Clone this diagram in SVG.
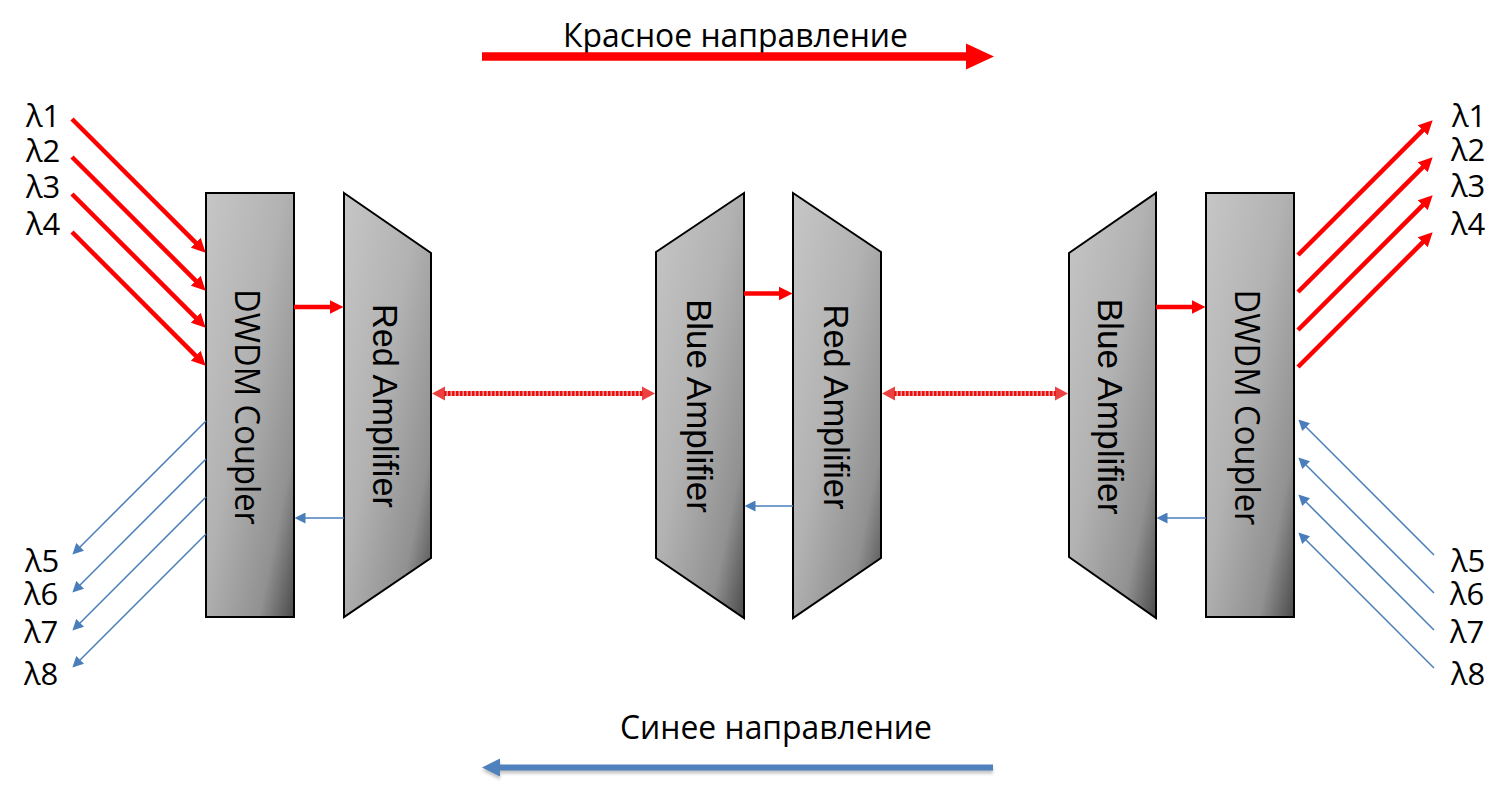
<svg xmlns="http://www.w3.org/2000/svg" width="1512" height="797" viewBox="0 0 1512 797">
<style>
.box{stroke:#000;stroke-width:2;fill:url(#grey)}
.amp{font-family:"Liberation Sans",Arial,sans-serif;font-size:35px;fill:#000}
.cpl{font-family:"Open Sans","Noto Sans",sans-serif;font-size:34px;fill:#000}
.lam{font-family:"Open Sans","Noto Sans",sans-serif;font-size:31px;fill:#000}
.title{font-family:"Open Sans","Noto Sans",sans-serif;font-size:32px;fill:#000}
.red{stroke:#f00;stroke-width:4.5;fill:none;marker-end:url(#rh)}
.blue{stroke:#4a7ebb;stroke-width:1.5;fill:none;marker-end:url(#bh)}
.dotbase{stroke:#f59a9a;stroke-width:5}
.dot{stroke:#e81010;stroke-width:5;stroke-dasharray:2.5 1.5}
.dhead{fill:#e82020;opacity:0.85}
</style>
<defs>
<linearGradient id="grey" x1="0" y1="0" x2="1" y2="1">
<stop offset="0" stop-color="#c6c6c6"/>
<stop offset="0.45" stop-color="#b2b2b2"/>
<stop offset="0.8" stop-color="#919191"/>
<stop offset="1" stop-color="#4a4a4a"/>
</linearGradient>
<marker id="rh" viewBox="0 0 14 14" refX="0.5" refY="7" markerWidth="14" markerHeight="14" markerUnits="userSpaceOnUse" orient="auto">
<path d="M0,0 L14,7 L0,14 z" fill="#f00"/>
</marker>
<marker id="bh" viewBox="0 0 11 11" refX="0.5" refY="5.5" markerWidth="11" markerHeight="11" markerUnits="userSpaceOnUse" orient="auto">
<path d="M0,0 L11,5.5 L0,11 z" fill="#4a7ebb"/>
</marker>
<filter id="sh" x="-5%" y="-100%" width="110%" height="300%">
<feGaussianBlur stdDeviation="1.5"/>
</filter>
</defs>
<rect width="1512" height="797" fill="#fff"/>

<g id="node-dwdm-left">
<rect class="box" x="206" y="193" width="88" height="424"/>
<text class="cpl" x="235" y="407" text-anchor="middle" textLength="236" lengthAdjust="spacingAndGlyphs" transform="rotate(90 235 407)">DWDM Coupler</text>
</g>
<g id="node-redamp-left">
<polygon class="box" points="344,193 431,253 431,558 344,617"/>
<text class="amp" x="373" y="406" text-anchor="middle" textLength="204" lengthAdjust="spacingAndGlyphs" transform="rotate(90 373 406)">Red Amplifier</text>
</g>
<g id="node-blueamp-mid">
<polygon class="box" points="656,252 744,193 744,618 656,558"/>
<text class="amp" x="687" y="406" text-anchor="middle" textLength="214" lengthAdjust="spacingAndGlyphs" transform="rotate(90 687 406)">Blue Amplifier</text>
</g>
<g id="node-redamp-mid">
<polygon class="box" points="793,193 881,252 881,558 793,618"/>
<text class="amp" x="824" y="407" text-anchor="middle" textLength="205" lengthAdjust="spacingAndGlyphs" transform="rotate(90 824 407)">Red Amplifier</text>
</g>
<g id="node-blueamp-right">
<polygon class="box" points="1069,253 1156,193 1156,618 1069,557"/>
<text class="amp" x="1098" y="406.5" text-anchor="middle" textLength="216" lengthAdjust="spacingAndGlyphs" transform="rotate(90 1098 406.5)">Blue Amplifier</text>
</g>
<g id="node-dwdm-right">
<rect class="box" x="1206" y="193" width="88" height="424"/>
<text class="cpl" x="1235" y="407.5" text-anchor="middle" textLength="236" lengthAdjust="spacingAndGlyphs" transform="rotate(90 1235 407.5)">DWDM Coupler</text>
</g>

<g id="labels">
<text class="lam" x="26" y="127">λ1</text>
<text class="lam" x="26" y="162">λ2</text>
<text class="lam" x="26" y="198">λ3</text>
<text class="lam" x="26" y="235">λ4</text>
<text class="lam" x="25" y="572">λ5</text>
<text class="lam" x="24" y="605">λ6</text>
<text class="lam" x="24" y="643">λ7</text>
<text class="lam" x="24" y="685">λ8</text>
<text class="lam" x="1452" y="127">λ1</text>
<text class="lam" x="1451" y="161">λ2</text>
<text class="lam" x="1451" y="197">λ3</text>
<text class="lam" x="1451" y="235">λ4</text>
<text class="lam" x="1451" y="572">λ5</text>
<text class="lam" x="1450" y="605">λ6</text>
<text class="lam" x="1450" y="643">λ7</text>
<text class="lam" x="1451" y="685">λ8</text>
<text class="title" x="563" y="47" textLength="345" lengthAdjust="spacingAndGlyphs">Красное направление</text>
<text class="title" x="620" y="739" textLength="312" lengthAdjust="spacingAndGlyphs">Синее направление</text>
</g>

<g id="connectors">
<line class="red" x1="72" y1="119" x2="196.1" y2="243.1"/>
<line class="red" x1="72" y1="157" x2="196.1" y2="281.1"/>
<line class="red" x1="72" y1="194" x2="196.1" y2="318.1"/>
<line class="red" x1="72" y1="232" x2="196.1" y2="356.1"/>
<line class="red" x1="1298" y1="255" x2="1423.1" y2="129.9"/>
<line class="red" x1="1298" y1="292" x2="1423.1" y2="166.9"/>
<line class="red" x1="1298" y1="330" x2="1423.1" y2="204.9"/>
<line class="red" x1="1298" y1="367" x2="1423.1" y2="241.9"/>
<line class="red" x1="294" y1="307" x2="330" y2="307"/>
<line class="red" x1="744" y1="293.5" x2="779" y2="293.5"/>
<line class="red" x1="1156" y1="307" x2="1192" y2="307"/>
<line class="blue" x1="206" y1="421" x2="79.8" y2="547.2"/>
<line class="blue" x1="206" y1="459" x2="79.8" y2="585.2"/>
<line class="blue" x1="206" y1="497" x2="79.8" y2="623.2"/>
<line class="blue" x1="206" y1="534" x2="79.8" y2="660.2"/>
<line class="blue" x1="1434" y1="555" x2="1305.8" y2="426.8"/>
<line class="blue" x1="1434" y1="593" x2="1305.8" y2="464.8"/>
<line class="blue" x1="1434" y1="630" x2="1305.8" y2="501.8"/>
<line class="blue" x1="1434" y1="668" x2="1305.8" y2="539.8"/>
<line class="blue" x1="344" y1="518" x2="305" y2="518"/>
<line class="blue" x1="793" y1="506" x2="755" y2="506"/>
<line class="blue" x1="1206" y1="518" x2="1167" y2="518"/>
<line class="dotbase" x1="444" y1="393.5" x2="643" y2="393.5"/>
<line class="dot" x1="444" y1="393.5" x2="643" y2="393.5"/>
<polygon class="dhead" points="445,386.5 432,393.5 445,400.5"/>
<polygon class="dhead" points="642,386.5 655,393.5 642,400.5"/>
<line class="dotbase" x1="894" y1="393.5" x2="1056" y2="393.5"/>
<line class="dot" x1="894" y1="393.5" x2="1056" y2="393.5"/>
<polygon class="dhead" points="895,386.5 882,393.5 895,400.5"/>
<polygon class="dhead" points="1055,386.5 1068,393.5 1055,400.5"/>
<line x1="482" y1="56.5" x2="967" y2="56.5" stroke="#f00" stroke-width="8.5"/>
<polygon points="966,43.5 994,56.5 966,69.5" fill="#f00"/>
<g filter="url(#sh)" opacity="0.35">
<line x1="993" y1="770.5" x2="499" y2="770.5" stroke="#555" stroke-width="6"/>
<polygon points="500,761.5 482,770.5 500,779.5" fill="#555"/>
</g>
<line x1="993" y1="767.5" x2="499" y2="767.5" stroke="#4f81bd" stroke-width="6"/>
<polygon points="500,758.5 482,767.5 500,776.5" fill="#4f81bd"/>
</g>
</svg>
